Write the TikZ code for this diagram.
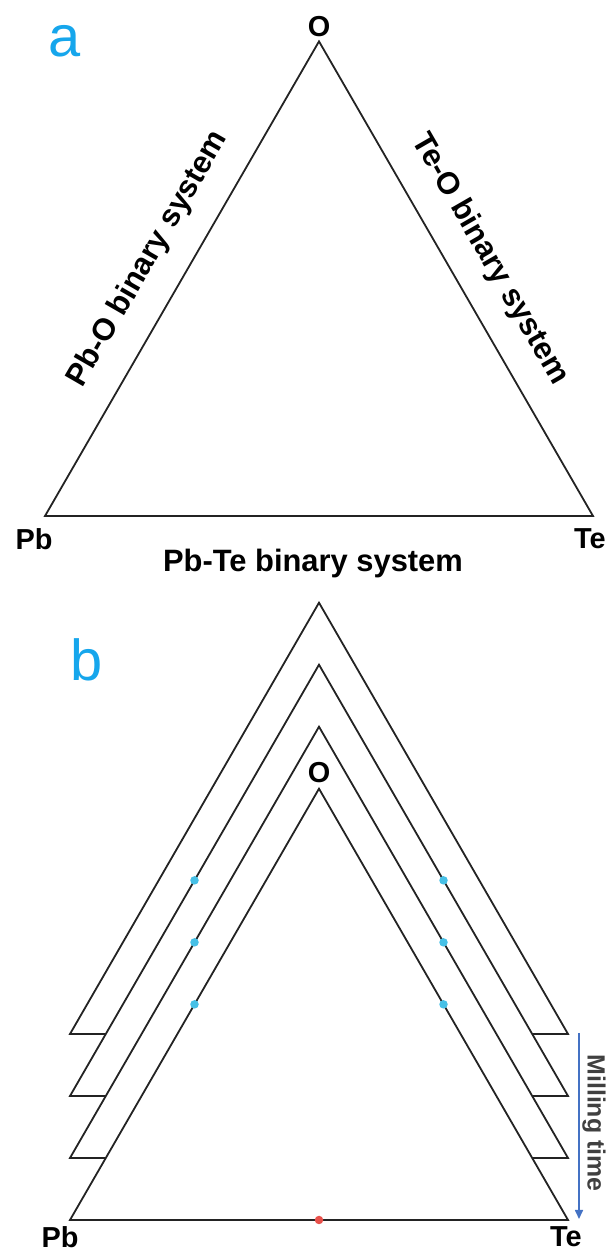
\documentclass[tikz,border=0pt]{standalone}
\usepackage{fontspec}
\setmainfont{Liberation Sans}
\usetikzlibrary{calc,arrows.meta}
\definecolor{panelblue}{RGB}{22,166,236}
\definecolor{dotblue}{RGB}{70,192,230}
\definecolor{dotred}{RGB}{232,80,74}
\definecolor{arrowblue}{RGB}{68,114,196}
\definecolor{linegray}{RGB}{35,35,35}
\definecolor{textgray}{RGB}{64,64,64}
\tikzset{
  edge/.style={draw=linegray, line width=1.8bp, line join=miter},
  vlabel/.style={font=\fontsize{29}{30}\selectfont\bfseries, inner sep=0pt},
  panel/.style={font=\fontsize{58}{60}\selectfont, text=panelblue, inner sep=0pt},
  syslabel/.style={font=\fontsize{31}{32}\selectfont\bfseries, inner sep=0pt, anchor=base},
  bdot/.style={circle, fill=dotblue, inner sep=0pt, minimum size=8.5bp},
  rdot/.style={circle, fill=dotred, inner sep=0pt, minimum size=8.5bp},
}
\begin{document}
\begin{tikzpicture}[x=1bp,y=1bp]
\useasboundingbox (0,0) rectangle (608,1251);
% ---------- panel a ----------
\node[panel] (pa) at (65,1210) {a};
\coordinate (aPb) at (45,735);
\coordinate (aTe) at (593,735);
\coordinate (aO) at (319,1209.6);
\draw[edge] (aPb) -- (aO) -- (aTe) -- cycle;
\node[vlabel] (laO) at (319,1224) {O};
\node[vlabel] (laPb) at (34,712) {Pb};
\node[vlabel] (laTe) at (590,712) {Te};
\node[syslabel, rotate=60] (lPbO) at ($(aPb)!0.5!(aO)+(150:31)$) {Pb-O binary system};
\node[syslabel, rotate=-60] (lTeO) at ($(aTe)!0.5!(aO)+(30:31)$) {Te-O binary system};
\node[syslabel] (lPbTe) at (313,679) {Pb-Te binary system};
% ---------- panel b ----------
\node[panel] (pb) at (87,591) {b};
\coordinate (bPb) at (70,31);
\coordinate (bTe) at (568,31);
\coordinate (bO) at (319,462.3);
\draw[edge] (bPb) -- (bO) -- (bTe) -- cycle;
\foreach \k in {1,2,3}{
  \draw[edge] ($(bPb)+(35.8,62*\k)$) -- ($(bPb)+(0,62*\k)$) -- ($(bO)+(0,62*\k)$)
     -- ($(bTe)+(0,62*\k)$) -- ($(bTe)+(-35.8,62*\k)$);
}
\foreach \k in {0,1,2}{
  \node[bdot] (dl\k) at ($(bPb)!0.5!(bO)+(0,62*\k)$) {};
  \node[bdot] (dr\k) at ($(bTe)!0.5!(bO)+(0,62*\k)$) {};
}
\node[rdot] (dred) at ($(bPb)!0.5!(bTe)$) {};
\node[vlabel] (lbO) at (319,478) {O};
\node[vlabel] (lbPb) at (60,14) {Pb};
\node[vlabel] (lbTe) at (566,14) {Te};
\coordinate (mtop) at (579,218);
\coordinate (mbot) at (579,32);
\draw[arrowblue, line width=1.6bp, -{Triangle[length=9bp,width=8bp]}] (mtop) -- (mbot);
\node[font=\fontsize{25}{26}\selectfont\bfseries, text=textgray, rotate=-90, inner sep=0pt] (mlab) at (594,128) {Milling time};
\end{tikzpicture}
\end{document}
